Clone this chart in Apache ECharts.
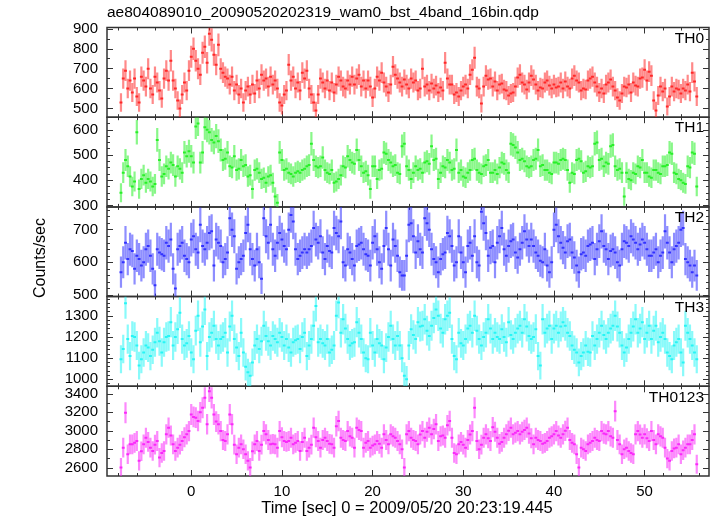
<!DOCTYPE html>
<html><head><meta charset="utf-8">
<script src="https://cdn.jsdelivr.net/npm/echarts@6/dist/echarts.min.js"></script>
<style>html,body{margin:0;padding:0;background:#fff}#c{width:717px;height:516px}</style>
</head><body><div id="c"></div>
<script>
// bin start time (sec) and bin width (sec); bins are 0.25 s wide
const T0 = -7.75, DT = 0.25;
const xMajorTicks = [0, 10, 20, 30, 40, 50];

const th0 = [
530,650,690,600, 640,580,650,560, 530,660,640,610, 700,600,570,660, 630,590,550,650, 690,640,740,640, 600,540,500,570, 630,590,690,760,
800,740,700,670, 780,810,730,875, 845,770,720,820, 700,680,660,650, 620,660,590,620, 570,600,530,590, 610,570,620,575, 640,600,670,640,
650,610,660,620, 640,600,530,515, 570,590,720,640, 660,600,630,590, 680,650,690,600, 570,530,490,570, 650,630,600,640, 590,630,580,620,
660,640,610,600, 640,620,660,620, 650,670,610,640, 600,640,610,555, 600,660,640,680, 630,610,580,620, 710,670,650,630, 610,645,620,600,
650,630,640,590, 600,700,610,620, 590,625,600,615, 580,605,590,730, 650,620,620,570, 580,560,590,610, 620,600,670,695, 755,610,600,525,
610,665,645,650, 610,635,590,620, 625,595,590,565, 575,580,610,655, 670,630,620,595, 630,665,645,620, 590,605,600,630, 640,615,600,620,
605,610,630,600, 635,610,600,650, 665,640,630,590, 600,595,640,650, 660,630,610,580, 600,575,620,630, 645,610,590,555, 540,575,610,605,
620,580,630,615, 610,650,655,695, 640,685,665,540, 490,565,610,585, 600,510,560,610, 585,600,595,575, 600,590,620,585, 680,635,560
];
const th1 = [
350,430,480,455, 415,375,395,590, 365,405,420,390, 405,395,375,385, 560,480,415,425, 455,445,470,460, 415,455,445,430, 510,495,515,495,
470,613,625,470, 510,610,600,590, 560,550,575,555, 520,480,485,510, 455,450,495,440, 445,480,455,460, 415,420,365,440, 445,430,405,410,
390,415,420,390, 335,310,510,480, 440,445,430,425, 415,430,435,430, 440,445,455,460, 545,480,455,450, 455,490,440,430, 425,440,390,395,
405,420,455,450, 495,480,470,465, 520,480,455,430, 435,420,365,455, 455,405,440,445, 510,505,480,470, 455,460,430,425, 535,545,455,440,
405,430,455,440, 445,430,470,475, 465,535,480,485, 405,430,455,450, 480,470,440,445, 520,430,440,415, 410,430,440,480, 485,440,430,425,
455,460,480,430, 430,440,425,450, 470,465,440,430, 545,540,530,510, 480,485,475,455, 450,455,480,485, 520,455,460,440, 440,430,425,470,
470,465,480,485, 480,440,390,430, 425,480,485,475, 430,435,455,450, 455,545,550,480, 485,455,470,465, 535,540,455,440, 445,430,335,430,
405,400,430,425, 455,450,480,430, 430,415,410,440, 440,430,425,455, 455,460,510,505, 430,425,405,400, 390,385,455,450, 510,505,375
];
const th2 = [
570,600,660,610,640,635,580,620,610,590,600,640,650,620,580,530,640,630,625,620,660,650,670,580,520,640,650,660,620,610,600,670,
680,640,630,715,650,640,660,690,695,590,670,660,650,600,610,630,735,700,680,580,600,610,620,690,715,640,610,590,640,600,550,735,
680,660,715,640,620,660,690,670,650,640,700,745,725,640,610,620,630,640,630,640,650,705,670,660,680,630,610,650,635,630,705,690,
680,725,600,590,640,630,610,590,650,655,660,640,625,620,590,660,680,640,600,580,650,705,640,590,670,650,620,570,560,560,620,715,
720,680,630,665,640,630,735,720,700,640,610,600,570,610,625,630,690,680,650,590,600,680,630,600,570,650,660,620,680,600,590,755,
720,690,620,645,650,600,660,680,705,640,620,650,665,670,630,615,640,660,695,670,650,670,650,630,620,605,600,640,590,570,600,700,
715,680,660,645,630,665,670,630,615,590,570,625,630,620,650,655,660,610,640,665,695,650,640,610,635,640,630,600,590,640,665,660,
650,680,670,660,640,655,670,660,640,620,620,630,640,600,620,630,695,660,630,600,640,650,660,700,705,610,600,590,570,590,560
];
const th3 = [
1095,1143,1360,1190,1110,1205,1200,1160,1065,1095,1127,1160,1150,1110,1140,1175,1220,1180,1127,1175,1200,1205,1270,1160,1200,1237,1315,1190,1160,1170,1205,1127,
1095,1230,1300,1175,1250,1330,1110,1200,1220,1253,1190,1160,1190,1200,1220,1127,1250,1300,1190,1150,1110,1220,1127,1060,1033,1017,1080,1160,1190,1143,1180,1253,
1205,1180,1160,1205,1190,1175,1220,1200,1160,1190,1150,1127,1175,1185,1190,1143,1200,1220,1110,1160,1190,1253,1347,1175,1190,1170,1160,1190,1127,1140,1160,1300,
1363,1220,1284,1240,1190,1160,1170,1175,1270,1220,1190,1127,1100,1095,1220,1160,1127,1190,1170,1160,1095,1150,1200,1253,1190,1160,1205,1160,1100,1017,1000,1160,
1237,1210,1190,1270,1250,1253,1284,1230,1205,1253,1290,1330,1300,1240,1220,1284,1300,1315,1190,1110,1095,1220,1170,1160,1190,1240,1253,1220,1300,1230,1190,1160,
1200,1220,1284,1240,1190,1220,1200,1190,1237,1200,1175,1270,1210,1190,1220,1240,1253,1220,1284,1250,1205,1190,1200,1237,1110,1065,1284,1220,1240,1253,1190,1240,
1253,1220,1250,1270,1253,1220,1205,1160,1140,1127,1080,1110,1127,1160,1130,1127,1205,1160,1190,1220,1253,1210,1190,1220,1240,1253,1300,1250,1220,1160,1127,1150,
1190,1220,1250,1284,1220,1240,1270,1190,1220,1253,1190,1230,1253,1175,1200,1220,1190,1127,1110,1095,1160,1175,1190,1127,1080,1253,1220,1190,1160,1127,1095
];
const th0123 = [
2603,2818,3195,2747,2854,2854,2870,2890,2675,2780,2854,2926,2880,2818,2782,2850,2890,2711,2760,2782,2962,3034,2950,2854,2782,2818,2850,2890,2930,2962,2998,3177,
3150,3142,3106,3200,3249,3357,3070,3428,3357,3177,3100,3070,2998,2900,2890,2962,3177,3070,2850,2747,2818,2854,2800,2747,2675,2603,2780,2854,2890,2782,2850,2998,
2962,2900,2854,2860,2854,2818,2998,2930,2890,2880,2890,2926,2854,2870,2890,2782,2880,2926,2782,2818,2850,3034,2930,2890,2818,2900,2926,2890,2860,2854,2818,3050,
3106,2926,2900,2890,2998,2940,2926,2818,3034,3010,2998,2818,2870,2890,2818,2840,2854,2890,2860,2818,2962,2900,2854,2962,2940,2926,2890,2854,2800,2603,2962,2998,
2926,2900,2890,2854,2960,2998,2926,2990,3034,2962,3020,3070,2890,2940,2950,2926,3060,3106,2926,2760,2747,2854,2880,2850,2818,2900,2960,2998,3249,2890,2800,2850,
2926,2962,2920,2890,3040,2990,2926,2860,2880,2926,2962,3000,3034,2962,2980,2998,2962,2990,3010,3034,2970,2920,2854,2926,2900,2890,2860,2870,2890,2926,2940,2962,
2998,2950,2926,2962,3000,3034,2900,2870,2854,2747,2603,2818,2800,2782,2854,2870,2890,2926,2900,2890,2998,2970,2962,2998,2940,2926,3213,2900,2854,2747,2800,2818,
2782,2760,2747,2962,2998,2960,2926,2962,2920,2890,2998,2900,2854,2962,2940,2926,2818,2700,2675,2782,2810,2818,2854,2747,2790,2818,2854,2854,2900,2962,2639
];

const panelNames = ['TH0', 'TH1', 'TH2', 'TH3', 'TH0123'];
const yLabelTicks = [
  [500, 600, 700, 800, 900],
  [300, 400, 500, 600],
  [500, 600, 700],
  [1000, 1100, 1200, 1300],
  [2600, 2800, 3000, 3200, 3400]
];
const series = [th0, th1, th2, th3, th0123];

// ---- styling / layout (not data) ----
const colors = ['rgb(255,40,40)', 'rgb(40,240,40)', 'rgb(50,50,255)', 'rgb(40,245,245)', 'rgb(250,40,250)'];
const yRanges = [[456, 907], [294, 650], [495, 770], [967, 1391], [2511, 3482]];
const yMinorStep = [50, 25, 20, 20, 100];
const XMIN = -9.29, XMAX = 57.1;
const FONT = 'Liberation Sans';
const GTOP = 27.5, GH = 89.7, GLEFT = 107, GRIGHT = 8;

function range(a, b, s) { const r = []; for (let v = Math.ceil(a / s) * s; v <= b + 1e-9; v += s) r.push(+v.toFixed(6)); return r; }
const xMinor = range(-8, 56, 2);
const plainFmt = v => String(v);

const grids = [], xAxes = [], yAxes = [], ser = [], graphics = [];
for (let p = 0; p < 5; p++) {
  grids.push({ left: GLEFT, right: GRIGHT, top: GTOP + p * GH, height: GH, show: true, borderColor: '#333', borderWidth: 1.5, backgroundColor: 'transparent' });
  const tickStyle = { color: '#333', width: 1 };
  const base = { gridIndex: p, type: 'value', min: XMIN, max: XMAX, axisLine: { show: false, onZero: false }, splitLine: { show: false } };
  ['bottom', 'top'].forEach(pos => {
    xAxes.push(Object.assign({}, base, { position: pos,
      axisTick: { show: true, inside: true, length: 6, customValues: xMajorTicks, lineStyle: tickStyle },
      axisLabel: { show: (p === 4 && pos === 'bottom'), customValues: xMajorTicks, formatter: plainFmt, margin: 8, fontSize: 15, fontFamily: FONT, color: '#000' } }));
    xAxes.push(Object.assign({}, base, { position: pos,
      axisTick: { show: true, inside: true, length: 3, customValues: xMinor, lineStyle: tickStyle },
      axisLabel: { show: false } }));
  });
  const ybase = { gridIndex: p, type: 'value', min: yRanges[p][0], max: yRanges[p][1], axisLine: { show: false, onZero: false }, splitLine: { show: false } };
  const yMinor = range(yRanges[p][0], yRanges[p][1], yMinorStep[p]);
  ['left', 'right'].forEach(pos => {
    yAxes.push(Object.assign({}, ybase, { position: pos,
      axisTick: { show: true, inside: true, length: 6, customValues: yLabelTicks[p], lineStyle: tickStyle },
      axisLabel: { show: pos === 'left', customValues: yLabelTicks[p], formatter: plainFmt, margin: 9, fontSize: 15, fontFamily: FONT, color: '#000' } }));
    yAxes.push(Object.assign({}, ybase, { position: pos,
      axisTick: { show: true, inside: true, length: 3, customValues: yMinor, lineStyle: tickStyle },
      axisLabel: { show: false } }));
  });
  const vals = series[p];
  // Poisson error of a rate measured in a DT-second bin
  const data = vals.map((v, i) => [T0 + i * DT, v, Math.sqrt(v / DT)]);
  const col = colors[p];
  ser.push({
    type: 'custom', xAxisIndex: p * 4, yAxisIndex: p * 4, clip: true, data: data,
    encode: { x: 0, y: 1 },
    renderItem: function (params, api) {
      const t = api.value(0), v = api.value(1), e = api.value(2);
      const a = api.coord([t - DT / 2, v]), b = api.coord([t + DT / 2, v]);
      const lo = api.coord([t, v - e]), hi = api.coord([t, v + e]);
      const cs = params.coordSys;
      return { type: 'group',
        clipPath: { type: 'rect', shape: { x: cs.x, y: cs.y, width: cs.width, height: cs.height } },
        children: [
          { type: 'line', shape: { x1: lo[0], y1: lo[1], x2: hi[0], y2: hi[1] }, style: { stroke: col, lineWidth: 2.2, opacity: 0.55 } },
          { type: 'line', shape: { x1: a[0] - 0.3, y1: a[1], x2: b[0] + 0.3, y2: b[1] }, style: { stroke: col, lineWidth: 2 } }
        ] };
    }
  });
  graphics.push({ type: 'text', right: 13, top: GTOP + p * GH + 3, z: 10,
    style: { text: panelNames[p], font: '15.5px "' + FONT + '"', fill: '#000' } });
}
graphics.push({ type: 'text', left: 107, top: 5, style: { text: 'ae804089010_20090520202319_wam0_bst_4band_16bin.qdp', font: '15.5px "' + FONT + '"', fill: '#000' } });
graphics.push({ type: 'text', x: 407, y: 508, style: { text: 'Time [sec] 0 = 2009/05/20 20:23:19.445', font: '16.5px "' + FONT + '"', fill: '#000', textAlign: 'center', textVerticalAlign: 'middle' } });
graphics.push({ type: 'text', x: 41, y: 258, rotation: Math.PI / 2, style: { text: 'Counts/sec', font: '16px "' + FONT + '"', fill: '#000', textAlign: 'center', textVerticalAlign: 'middle' } });

const chart = echarts.init(document.getElementById('c'), null, { renderer: 'canvas' });
chart.setOption({ animation: false, backgroundColor: '#fff', grid: grids, xAxis: xAxes, yAxis: yAxes, series: ser, graphic: graphics });
</script></body></html>
